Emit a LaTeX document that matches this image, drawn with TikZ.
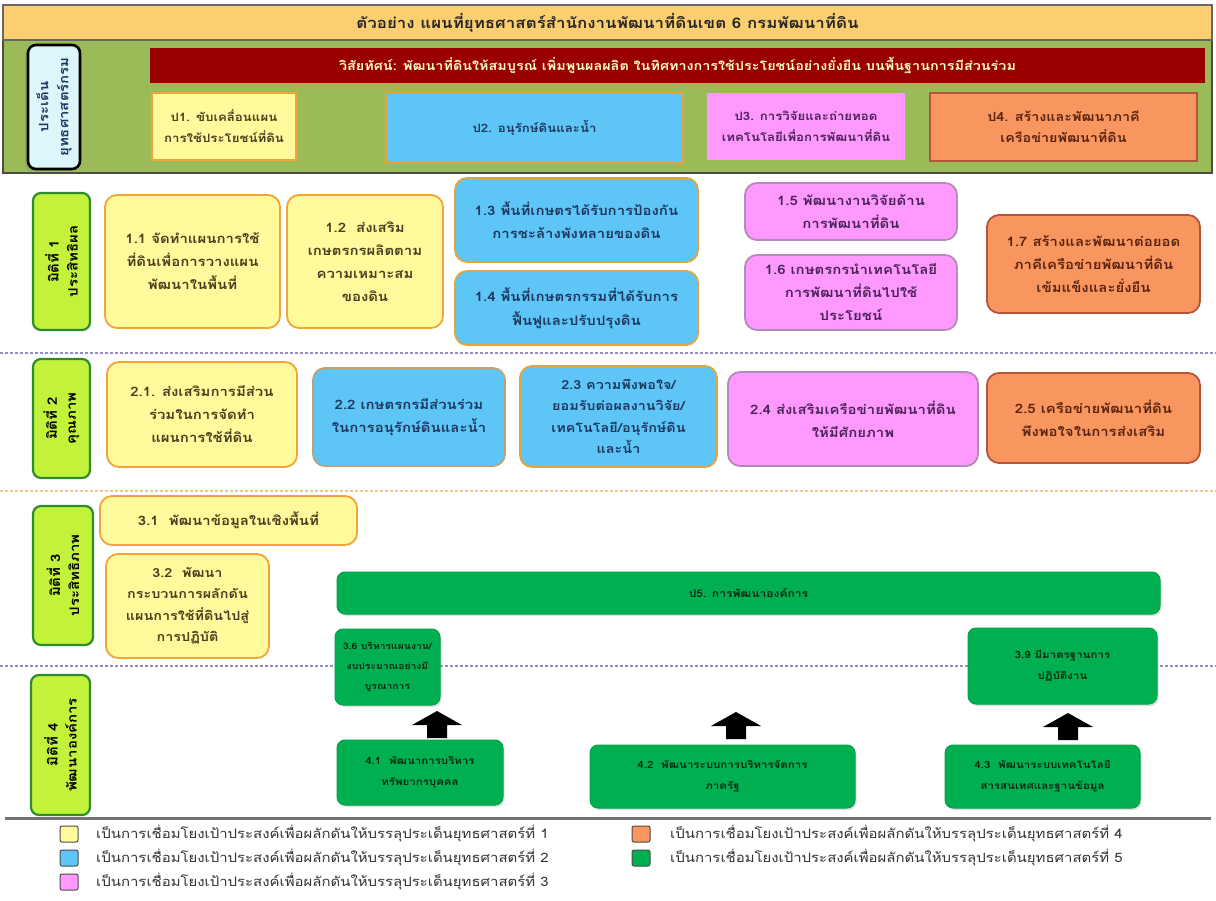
\documentclass[tikz,border=0pt]{standalone}
\usepackage{fontspec}
\setmainfont[Script=Thai, FakeStretch=1.15]{Loma}
\usetikzlibrary{shadows}
\definecolor{titlebg}{HTML}{FBCF70}
\definecolor{band}{HTML}{9BBB59}
\definecolor{vis}{HTML}{990000}
\definecolor{cyanbg}{HTML}{DDF6FB}
\definecolor{yfill}{HTML}{FFFA9C}
\definecolor{yline}{HTML}{F2A33A}
\definecolor{bfill}{HTML}{5EC6F6}
\definecolor{bline}{HTML}{E3A43E}
\definecolor{pfill}{HTML}{FF99FF}
\definecolor{pline}{HTML}{B28CB8}
\definecolor{ofill}{HTML}{F9965F}
\definecolor{oline}{HTML}{B4553A}
\definecolor{gfill}{HTML}{00B050}
\definecolor{gline}{HTML}{00A349}
\definecolor{dimfill}{HTML}{C3F23A}
\definecolor{dimline}{HTML}{2E8B2E}
\definecolor{ytxt}{HTML}{4A3E1E}
\definecolor{btxt}{HTML}{1E3660}
\definecolor{ptxt}{HTML}{4A2458}
\definecolor{otxt}{HTML}{5A2410}
\definecolor{gtxt}{HTML}{0E2A12}
\definecolor{dashA}{HTML}{8E8ECC}
\definecolor{dashB}{HTML}{F3C48C}
\newcommand\mybox[7]{\node[#2, minimum width={#5-#3}, minimum height={#6-#4}] (#1) at ({(#3+#5)/2},{(#4+#6)/2}) {#7};}
\newcommand\dimlabel[6]{\node[dimstyle, minimum width={#5-#3}, minimum height={#4-#2}] (#1) at ({(#2+#4)/2},{(#3+#5)/2}) {#6};}
\newcommand\uparr[4]{\fill[black] ({#2-10},{#3}) -- ({#2-10},{#4+14}) -- ({#2-25},{#4+14}) -- ({#2},{#4}) -- ({#2+25},{#4+14}) -- ({#2+10},{#4+14}) -- ({#2+10},{#3}) -- cycle;
  \coordinate (#1) at ({#2},{#4});}
\tikzset{
  base/.style={rounded corners=12pt, line width=1.8pt, align=center, inner sep=2pt,
    font=\fontsize{13}{23}\selectfont\bfseries},
  ybox/.style={base, fill=yfill, draw=yline, text=ytxt},
  bbox/.style={base, fill=bfill, draw=bline, text=btxt},
  pbox/.style={base, fill=pfill, draw=pline, text=ptxt},
  obox/.style={base, fill=ofill, draw=oline, text=otxt},
  gbox/.style={base, rounded corners=8pt, fill=gfill, draw=gline, text=gtxt, line width=1pt,
    font=\fontsize{10}{21}\selectfont\bfseries,
    drop shadow={opacity=0.25, shadow xshift=1.5pt, shadow yshift=-2pt}},
  prect/.style={rectangle, align=center, inner sep=2pt, line width=2.4pt,
    font=\fontsize{11.5}{21}\selectfont\bfseries},
  dimstyle/.style={rotate=90, rounded corners=8pt, fill=dimfill, draw=dimline, line width=2.2pt,
    align=center, inner sep=1pt, text=black, font=\fontsize{13}{19}\selectfont\bfseries},
  legsq/.style={rounded corners=2pt, draw=black!70, line width=1pt, minimum width=18pt, minimum height=16pt, inner sep=0pt},
  legtxt/.style={anchor=west, inner sep=0pt, text=black!80, font=\fontsize{13}{14}\selectfont},
  sepA/.style={dashA, line width=1.3pt, dash pattern=on 3pt off 2pt},
  sepB/.style={dashB, line width=1.3pt, dash pattern=on 3pt off 2pt},
}
\begin{document}
\begin{tikzpicture}[x=1pt,y=-1pt]
\useasboundingbox[fill=white] (0,0) rectangle (1216,901);
% header band
\fill[band] (3,40) rectangle (1212,173);
\draw[black!70, line width=1.5pt] (3,40) rectangle (1212,173);
\node[draw=black!60, line width=1.2pt, fill=titlebg, minimum width=1209pt, minimum height=35pt, inner sep=0pt,
  font=\fontsize{14.7}{16}\selectfont\bfseries, text=black!85] (title) at (607.5,22.5)
  {ตัวอย่าง แผนที่ยุทธศาสตร์สำนักงานพัฒนาที่ดินเขต 6 กรมพัฒนาที่ดิน};
\node[rotate=90, rounded corners=8pt, fill=cyanbg, draw=black, line width=2.6pt, minimum width=124pt, minimum height=52pt,
  align=center, inner sep=1pt, text=btxt, font=\fontsize{13}{20}\selectfont\bfseries,
  drop shadow={opacity=0.35, shadow xshift=-3pt, shadow yshift=-2pt}] (issue) at (54,107)
  {ประเด็น\\ยุทธศาสตร์กรม};
\node[fill=vis, minimum width=1055pt, minimum height=35pt, inner sep=0pt, text=yellow!25,
  font=\fontsize{12.5}{14}\selectfont\bfseries] (vision) at (677.5,65.5)
  {วิสัยทัศน์: พัฒนาที่ดินให้สมบูรณ์ เพิ่มพูนผลผลิต ในทิศทางการใช้ประโยชน์อย่างยั่งยืน บนพื้นฐานการมีส่วนร่วม};
\mybox{p1}{prect, fill=yfill, draw=yline, text=ytxt}{152}{93}{296}{160}{ป1. ขับเคลื่อนแผน\\การใช้ประโยชน์ที่ดิน}
\mybox{p2}{prect, fill=bfill, draw=bline, text=btxt}{386}{93}{683}{163}{ป2. อนุรักษ์ดินและน้ำ}
\mybox{p3}{prect, fill=pfill, text=ptxt}{707}{93}{905}{160}{ป3. การวิจัยและถ่ายทอด\\เทคโนโลยีเพื่อการพัฒนาที่ดิน}
\mybox{p4}{prect, fill=ofill, draw=oline, text=otxt, font=\fontsize{12.5}{21}\selectfont\bfseries}{930}{93}{1197}{161}{ป4. สร้างและพัฒนาภาคี\\เครือข่ายพัฒนาที่ดิน}
% separators
\draw[sepA] (0,353) -- (1216,353);
\draw[sepB] (0,491) -- (1216,491);
\draw[sepA] (0,666) -- (1216,666);
% dimension labels
\dimlabel{d1}{33}{193}{90}{330}{มิติที่ 1\\ประสิทธิผล}
\dimlabel{d2}{33}{359}{90}{478}{มิติที่ 2\\คุณภาพ}
\dimlabel{d3}{33}{506}{93}{645}{มิติที่ 3\\ประสิทธิภาพ}
\dimlabel{d4}{31}{675}{90}{815}{มิติที่ 4\\พัฒนาองค์การ}
% row 1
\mybox{b11}{ybox}{105}{195}{280}{328}{1.1 จัดทำแผนการใช้\\ที่ดินเพื่อการวางแผน\\พัฒนาในพื้นที่}
\mybox{b12}{ybox}{287}{195}{443}{328}{1.2 \ ส่งเสริม\\เกษตรกรผลิตตาม\\ความเหมาะสม\\ของดิน}
\mybox{b13}{bbox}{455}{178}{698}{262}{1.3 พื้นที่เกษตรได้รับการป้องกัน\\การชะล้างพังทลายของดิน}
\mybox{b14}{bbox, font=\fontsize{13}{24}\selectfont\bfseries}{455}{271}{698}{345}{1.4 พื้นที่เกษตรกรรมที่ได้รับการ\\ฟื้นฟูและปรับปรุงดิน}
\mybox{b15}{pbox}{745}{183}{957}{240}{1.5 พัฒนางานวิจัยด้าน\\การพัฒนาที่ดิน}
\mybox{b16}{pbox}{745}{255}{957}{330}{1.6 เกษตรกรนำเทคโนโลยี\\การพัฒนาที่ดินไปใช้\\ประโยชน์}
\mybox{b17}{obox}{987}{215}{1200}{313}{1.7 สร้างและพัฒนาต่อยอด\\ภาคีเครือข่ายพัฒนาที่ดิน\\เข้มแข็งและยั่งยืน}
% row 2
\mybox{b21}{ybox}{107}{362}{297}{467}{2.1. ส่งเสริมการมีส่วน\\ร่วมในการจัดทำ\\แผนการใช้ที่ดิน}
\mybox{b22}{bbox, draw=yline!60!black!60}{313}{368}{505}{466}{2.2 เกษตรกรมีส่วนร่วม\\ในการอนุรักษ์ดินและน้ำ}
\mybox{b23}{bbox, font=\fontsize{12.5}{21.5}\selectfont\bfseries}{520}{366}{717}{467}{2.3 ความพึงพอใจ/\\ยอมรับต่อผลงานวิจัย/\\เทคโนโลยี/อนุรักษ์ดิน\\และน้ำ}
\mybox{b24}{pbox}{728}{372}{978}{466}{2.4 ส่งเสริมเครือข่ายพัฒนาที่ดิน\\ให้มีศักยภาพ}
\mybox{b25}{obox}{987}{373}{1200}{463}{2.5 เครือข่ายพัฒนาที่ดิน\\พึงพอใจในการส่งเสริม}
% row 3
\mybox{b31}{ybox}{100}{496}{357}{545}{3.1 \ พัฒนาข้อมูลในเชิงพื้นที่}
\mybox{b32}{ybox, font=\fontsize{12.5}{21.5}\selectfont\bfseries}{106}{554}{269}{658}{3.2 \ พัฒนา\\กระบวนการผลักดัน\\แผนการใช้ที่ดินไปสู่\\การปฏิบัติ}
\mybox{p5}{gbox, font=\fontsize{10.5}{21}\selectfont\bfseries}{337}{572}{1160}{614}{ป5. การพัฒนาองค์การ}
\mybox{b36}{gbox, font=\fontsize{9}{20}\selectfont\bfseries}{335}{629}{440}{705}{3.6 บริหารแผนงาน/\\งบประมาณอย่างมี\\บูรณาการ}
\mybox{b39}{gbox}{968}{628}{1157}{704}{3.9 มีมาตรฐานการ\\ปฏิบัติงาน}
% row 4
\mybox{b41}{gbox}{337}{740}{503}{805}{4.1 \ พัฒนาการบริหาร\\ทรัพยากรบุคคล}
\mybox{b42}{gbox}{590}{745}{855}{808}{4.2 \ พัฒนาระบบการบริหารจัดการ\\ภาครัฐ}
\mybox{b43}{gbox}{945}{745}{1140}{808}{4.3 \ พัฒนาระบบเทคโนโลยี\\สารสนเทศและฐานข้อมูล}
\uparr{a1}{437}{738}{711}
\uparr{a2}{736}{739}{712}
\uparr{a3}{1068}{740}{713}
% legend
\draw[black!55, line width=3pt] (5,818) -- (1211,818);
\node[legsq, fill=yfill] (l1) at (69,834) {};
\node[legsq, fill=bfill] (l2) at (69,858) {};
\node[legsq, fill=pfill] (l3) at (69,882) {};
\node[legsq, fill=ofill] (l4) at (641,834) {};
\node[legsq, fill=gfill] (l5) at (641,858) {};
\node[legtxt] (t1) at (96,834) {เป็นการเชื่อมโยงเป้าประสงค์เพื่อผลักดันให้บรรลุประเด็นยุทธศาสตร์ที่ 1};
\node[legtxt] (t2) at (96,858) {เป็นการเชื่อมโยงเป้าประสงค์เพื่อผลักดันให้บรรลุประเด็นยุทธศาสตร์ที่ 2};
\node[legtxt] (t3) at (96,882) {เป็นการเชื่อมโยงเป้าประสงค์เพื่อผลักดันให้บรรลุประเด็นยุทธศาสตร์ที่ 3};
\node[legtxt] (t4) at (670,834) {เป็นการเชื่อมโยงเป้าประสงค์เพื่อผลักดันให้บรรลุประเด็นยุทธศาสตร์ที่ 4};
\node[legtxt] (t5) at (670,858) {เป็นการเชื่อมโยงเป้าประสงค์เพื่อผลักดันให้บรรลุประเด็นยุทธศาสตร์ที่ 5};
\end{tikzpicture}
\end{document}
